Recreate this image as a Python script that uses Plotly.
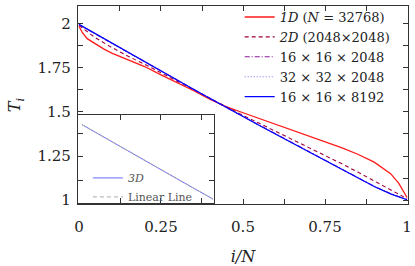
import plotly.graph_objects as go

# ---------------- data ----------------
x_grid = [0, .05, .1, .15, .2, .25, .3, .35, .4, .45, .5, .55, .6, .65, .7, .75, .8, .85, .9, .95, 1.0]

x_1d = [0, .01, .025, .05, .075, .1, .15, .2, .25, .3, .35, .4, .45, .5, .55, .6, .65, .7, .75, .8, .85,
        .9, .95, .975, 1.0]
T_1d = [1.985, 1.95, 1.915, 1.885, 1.857, 1.833, 1.795, 1.757, 1.71, 1.667, 1.62, 1.57, 1.528, 1.495,
        1.462, 1.43, 1.397, 1.364, 1.332, 1.298, 1.26, 1.215, 1.15, 1.095, 1.015]

T_2d = [1.99, 1.92, 1.865, 1.815, 1.77, 1.722, 1.672, 1.623, 1.574, 1.526, 1.48, 1.435, 1.39, 1.345,
        1.3, 1.254, 1.207, 1.159, 1.11, 1.058, 1.008]

T_16_16_2048 = [1.994, 1.941, 1.888, 1.835, 1.782, 1.730, 1.678, 1.626, 1.575, 1.524, 1.474, 1.424, 1.374,
                1.324, 1.274, 1.225, 1.176, 1.127, 1.078, 1.036, 1.003]
T_32_32_2048 = [1.995, 1.942, 1.889, 1.836, 1.783, 1.731, 1.679, 1.627, 1.576, 1.525, 1.474, 1.424, 1.374,
                1.324, 1.274, 1.225, 1.176, 1.127, 1.078, 1.036, 1.003]
T_16_16_8192 = [1.996, 1.943, 1.889, 1.836, 1.783, 1.731, 1.679, 1.627, 1.576, 1.524, 1.473, 1.423, 1.373,
                1.323, 1.273, 1.224, 1.175, 1.126, 1.077, 1.035, 1.002]

# inset: 3D profile vs linear line
x_inset = [0, 0.25, 0.5, 0.75, 1.0]
T_inset_3d = [2.0, 1.746, 1.497, 1.248, 1.0]
T_inset_lin = [2.0, 1.75, 1.5, 1.25, 1.0]

x_tickvals = [0, 0.125, 0.25, 0.375, 0.5, 0.625, 0.75, 0.875, 1.0]
x_ticktext = ["0", "", "0.25", "", "0.5", "", "0.75", "", "1"]
y_tickvals = [1.0, 1.125, 1.25, 1.375, 1.5, 1.625, 1.75, 1.875, 2.0]
y_ticktext = ["1", "", "1.25", "", "1.5", "", "1.75", "", "2"]

inset_xticks = [0.29, 0.602, 0.915]
inset_yticks = [1.25, 1.579, 1.881]

names = ["<i>1D</i> (<i>N</i> = 32768)", "<i>2D</i> (2048×2048)",
         "16 × 16 × 2048", "32 × 32 × 2048", "16 × 16 × 8192"]

FONT = "DejaVu Serif"

fig = go.Figure()
fig.add_trace(go.Scatter(x=x_1d, y=T_1d, mode="lines", name=names[0],
                         line=dict(color="#ff1a1a", width=1.3)))
fig.add_trace(go.Scatter(x=x_grid, y=T_2d, mode="lines", name=names[1],
                         line=dict(color="#a0003c", width=1.1, dash="4px,3px")))
fig.add_trace(go.Scatter(x=x_grid, y=T_16_16_2048, mode="lines", name=names[2],
                         line=dict(color="#8b1a9b", width=1.1, dash="5px,2px,1px,2px")))
fig.add_trace(go.Scatter(x=x_grid, y=T_32_32_2048, mode="lines", name=names[3],
                         line=dict(color="#8c6cf0", width=1.1, dash="1px,2px")))
fig.add_trace(go.Scatter(x=x_grid, y=T_16_16_8192, mode="lines", name=names[4],
                         line=dict(color="#0000ff", width=1.3)))

# inset
fig.add_trace(go.Scatter(x=x_inset, y=T_inset_3d, mode="lines", name="<i>3D</i>",
                         xaxis="x2", yaxis="y2", legend="legend2",
                         line=dict(color="#6a6aff", width=1)))
fig.add_trace(go.Scatter(x=x_inset, y=T_inset_lin, mode="lines", name="Linear Line",
                         xaxis="x2", yaxis="y2", legend="legend2",
                         line=dict(color="#aaaaaa", width=1, dash="4px,3px")))

axis_common = dict(showline=True, linecolor="#333", linewidth=1.2, mirror="ticks",
                   ticks="inside", ticklen=5, tickcolor="#333", showgrid=False, zeroline=False,
                   automargin=False)

fig.update_layout(
    width=415, height=266,
    margin=dict(l=78, r=7, t=2, b=62),
    paper_bgcolor="white", plot_bgcolor="white",
    font=dict(family=FONT, size=15, color="#222"),
    xaxis=dict(range=[-0.003, 1.003], tickvals=x_tickvals, ticktext=x_ticktext,
               ticklabelstandoff=9,
               title=dict(text="<i>i/N</i>", standoff=17, font=dict(size=16)), **axis_common),
    yaxis=dict(range=[0.978, 2.1], tickvals=y_tickvals, ticktext=y_ticktext,
               ticklabelstandoff=3,
               title=dict(text="<i>T<sub>i</sub></i>", standoff=12, font=dict(size=16)), **axis_common),
    xaxis2=dict(domain=[0.0, 0.412], anchor="y2", range=[-0.031, 1.007],
                tickvals=inset_xticks, showticklabels=False, **axis_common),
    yaxis2=dict(domain=[0.005, 0.45], anchor="x2", range=[0.948, 2.131],
                tickvals=inset_yticks, showticklabels=False, **axis_common),
    legend=dict(x=0.49, y=1.02, xanchor="left", yanchor="top",
                bgcolor="rgba(0,0,0,0)", font=dict(size=13, family=FONT),
                tracegroupgap=0, itemwidth=30),
    legend2=dict(x=0.03, y=0.205, xanchor="left", yanchor="top",
                 bgcolor="rgba(0,0,0,0)", font=dict(size=11, family=FONT, color="#555"),
                 itemwidth=30),
)

fig.write_html("out.html", config={"displayModeBar": False},
               post_script="document.body.style.margin='0';document.body.style.padding='0';")
